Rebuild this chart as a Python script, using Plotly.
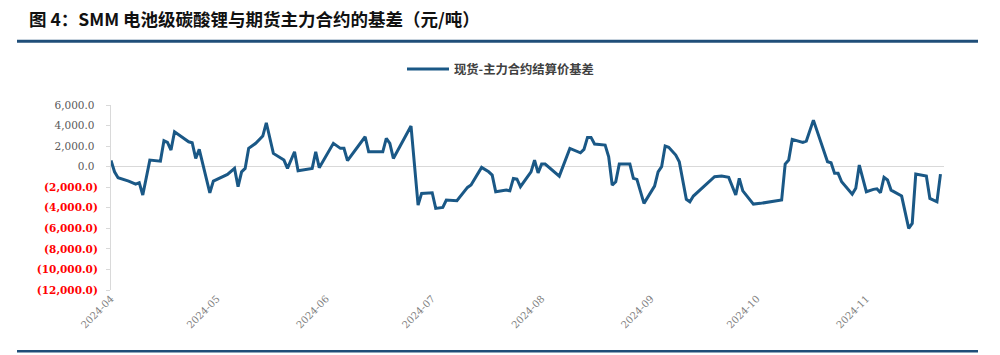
import plotly.graph_objects as go

dates = [
    "2024-04-01", "2024-04-02", "2024-04-03", "2024-04-06", "2024-04-08", "2024-04-09",
    "2024-04-10", "2024-04-12", "2024-04-15", "2024-04-16", "2024-04-17", "2024-04-18",
    "2024-04-19", "2024-04-21", "2024-04-23", "2024-04-24", "2024-04-25", "2024-04-26",
    "2024-04-29", "2024-04-30", "2024-05-04", "2024-05-06", "2024-05-07", "2024-05-08",
    "2024-05-09", "2024-05-10", "2024-05-12", "2024-05-14", "2024-05-15", "2024-05-17",
    "2024-05-20", "2024-05-21", "2024-05-23", "2024-05-24", "2024-05-28", "2024-05-29",
    "2024-05-30", "2024-06-03", "2024-06-05", "2024-06-06", "2024-06-07", "2024-06-12",
    "2024-06-13", "2024-06-17", "2024-06-18", "2024-06-19", "2024-06-20", "2024-06-25",
    "2024-06-27", "2024-06-28", "2024-07-01", "2024-07-02", "2024-07-04", "2024-07-05",
    "2024-07-08", "2024-07-11", "2024-07-12", "2024-07-15", "2024-07-17", "2024-07-18",
    "2024-07-19", "2024-07-22", "2024-07-23", "2024-07-24", "2024-07-25", "2024-07-26",
    "2024-07-29", "2024-07-30", "2024-07-31", "2024-08-01", "2024-08-02", "2024-08-06",
    "2024-08-09", "2024-08-12", "2024-08-13", "2024-08-14", "2024-08-15", "2024-08-16",
    "2024-08-19", "2024-08-20", "2024-08-21", "2024-08-22", "2024-08-23", "2024-08-26",
    "2024-08-27", "2024-08-28", "2024-08-30", "2024-09-02", "2024-09-03", "2024-09-04",
    "2024-09-05", "2024-09-06", "2024-09-08", "2024-09-09", "2024-09-11", "2024-09-12",
    "2024-09-13", "2024-09-19", "2024-09-21", "2024-09-23", "2024-09-25", "2024-09-26",
    "2024-09-27", "2024-09-30", "2024-10-02", "2024-10-08", "2024-10-09", "2024-10-10",
    "2024-10-11", "2024-10-14", "2024-10-15", "2024-10-17", "2024-10-21", "2024-10-22",
    "2024-10-23", "2024-10-24", "2024-10-25", "2024-10-28", "2024-10-29", "2024-10-30",
    "2024-11-01", "2024-11-03", "2024-11-04", "2024-11-05", "2024-11-06", "2024-11-07",
    "2024-11-08", "2024-11-11", "2024-11-13", "2024-11-14", "2024-11-15", "2024-11-18",
    "2024-11-19", "2024-11-21", "2024-11-22",
]

basis = [
    600, -500, -1080, -1400, -1700, -1560,
    -2760, 640, 540, 2520, 2360, 1620,
    3400, 2910, 2420, 2330, 800, 1680,
    -2540, -1400, -750, -170, -1950, -500,
    -170, 1780, 2270, 2980, 4270, 1290,
    640, -170, 1450, -400, -170, 1450,
    -100, 2270, 1780, 1780, 580, 2910,
    1450, 1450, 2750, 2270, 800, 3950,
    -3740, -2600, -2540, -4060, -3960, -3250,
    -3320, -2020, -1790, -70, -500, -820,
    -2440, -2280, -2350, -1140, -1200, -1950,
    -500, 640, -600, 250, 250, -920,
    1780, 1350, 1680, 2850, 2850, 2200,
    2100, 960, -1790, -1470, 250, 250,
    -1140, -1240, -3570, -1890, -500, 0,
    2000, 1880, 1130, 480, -3180, -3420,
    -2860, -980, -920, -1040, -2760, -1140,
    -2350, -3640, -3570, -3250, 250, 640,
    2650, 2360, 2490, 4530, 480, 380,
    -650, -650, -1470, -2670, -2110, 160,
    -2440, -2210, -2150, -2540, -1040, -1300,
    -2280, -2860, -6000, -5520, -720, -920,
    -3090, -3420, -720,
]

series_name = "现货-主力合约结算价基差"
title_text = "图 4：SMM 电池级碳酸锂与期货主力合约的基差（元/吨）"

y_tick_vals = [6000, 4000, 2000, 0, -2000, -4000, -6000, -8000, -10000, -12000]
y_tick_text = [
    "6,000.0\u00a0", "4,000.0\u00a0", "2,000.0\u00a0", "0.0\u00a0",
    "(2,000.0)", "(4,000.0)", "(6,000.0)", "(8,000.0)", "(10,000.0)", "(12,000.0)",
]

BLUE = "#1A5886"
ticktext_html = [
    t if v >= 0 else '<span style="color:#FF0000"><b>' + t + "</b></span>"
    for v, t in zip(y_tick_vals, y_tick_text)
]

fig = go.Figure()
fig.add_trace(go.Scatter(
    x=dates, y=basis, mode="lines", name=series_name,
    line=dict(color=BLUE, width=3),
    showlegend=True,
))

W, H = 1000, 355
ml, mr, mt, mb = 111, 56, 105, 64.5
pw = W - ml - mr
ph = H - mt - mb

def px_x(x):
    return (x - ml) / pw

def px_y(y):
    return (H - mb - y) / ph

fig.update_layout(
    width=W, height=H,
    margin=dict(l=ml, r=mr, t=mt, b=mb, pad=0),
    paper_bgcolor="white", plot_bgcolor="white",
    font=dict(family="DejaVu Serif, Noto Sans CJK SC", color="#595959", size=11),
    title=dict(
        text="<b>" + title_text + "</b>",
        xref="container", yref="container", x=0.029, y=1 - 20 / H,
        xanchor="left", yanchor="middle",
        font=dict(family="Noto Sans CJK SC", size=17.5, color="#111111"),
    ),
    legend=dict(
        orientation="h", xref="container", yref="container",
        x=0.402, y=1 - 69 / H, xanchor="left", yanchor="middle",
        itemwidth=42,
        font=dict(family="Noto Sans CJK SC", size=12.3, color="#404040", weight="bold"),
        bgcolor="rgba(0,0,0,0)",
    ),
    showlegend=True,
    xaxis=dict(
        type="date", range=["2024-04-01", "2024-11-23"],
        dtick="M1", tick0="2024-04-01", tickformat="%Y-%m", tickangle=-45,
        showgrid=False, showline=False, zeroline=False, ticks="",
        tickfont=dict(family="DejaVu Serif", size=10, color="#808080"),
    ),
    yaxis=dict(
        range=[-12000, 6000], tickvals=y_tick_vals, ticktext=ticktext_html,
        showgrid=False, showline=True, linecolor="#D9D9D9", linewidth=1,
        ticks="outside", ticklen=4, tickcolor="#D9D9D9", ticklabelstandoff=6,
        zeroline=True, zerolinecolor="#D9D9D9", zerolinewidth=1,
        tickfont=dict(family="DejaVu Serif", size=10.5, color="#595959"),
    ),
    shapes=[
        dict(type="line", xref="paper", yref="paper",
             x0=px_x(17), x1=px_x(978), y0=px_y(41), y1=px_y(41),
             line=dict(color="#1F4E79", width=3)),
        dict(type="line", xref="paper", yref="paper",
             x0=px_x(17), x1=px_x(978), y0=px_y(352), y1=px_y(352),
             line=dict(color="#1F4E79", width=2.5)),
    ],
)

fig.write_html("out.html")
